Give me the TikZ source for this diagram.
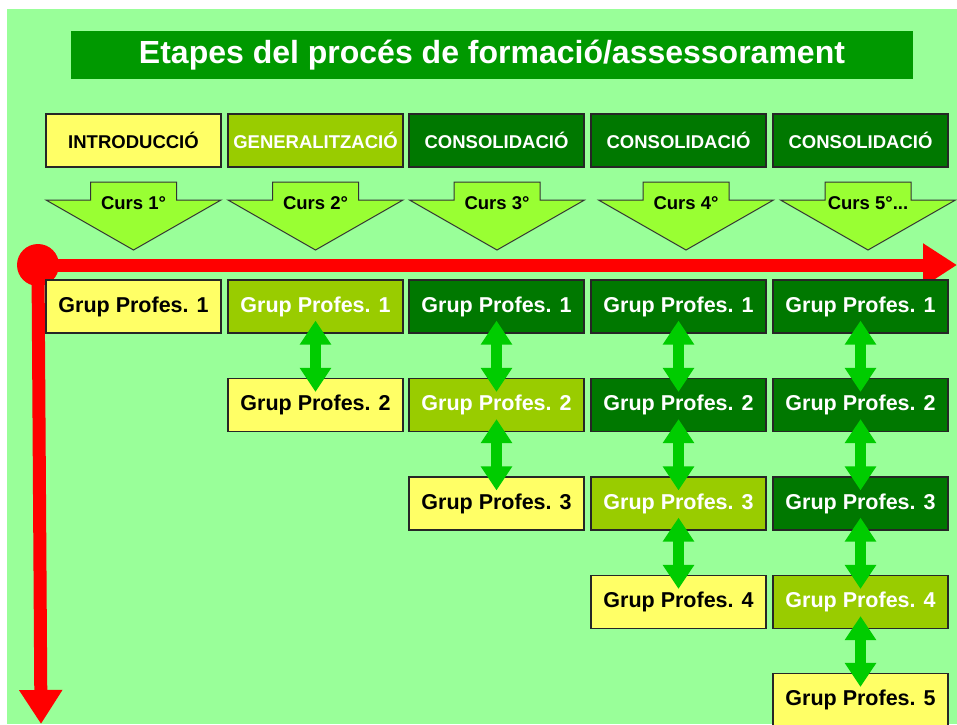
\documentclass[tikz,border=0pt]{standalone}
\usepackage{fontspec}
\setmainfont{Liberation Sans}
\usetikzlibrary{arrows.meta}
\definecolor{bggreen}{HTML}{99FF99}
\definecolor{titlegreen}{HTML}{009900}
\definecolor{boxyellow}{HTML}{FFFF66}
\definecolor{boxlime}{HTML}{99CC00}
\definecolor{boxdark}{HTML}{007800}
\definecolor{cursgreen}{HTML}{99FF33}
\definecolor{linkgreen}{HTML}{00CC00}

\begin{document}
\begin{tikzpicture}[x=1pt,y=-1pt,
    box/.style={draw=black!85,line width=1.2pt,minimum width=175pt,minimum height=53pt,inner sep=0pt,
        font=\bfseries\fontsize{21.5}{24}\selectfont},
    intro/.style={box,fill=boxyellow,text=black},
    gener/.style={box,fill=boxlime,text=white},
    consol/.style={box,fill=boxdark,text=white},
    hdr/.style={font=\bfseries\fontsize{18.5}{21}\selectfont},
    cursarrow/.style={draw=black!80,line width=1pt,fill=cursgreen},
    link/.style={draw=linkgreen,line width=11pt,{Triangle[width=30pt,length=24pt]}-{Triangle[width=30pt,length=24pt]},
        shorten <=-13pt,shorten >=-14pt},
    axis/.style={draw=red,line width=13pt,-{Triangle[width=41pt,length=34pt]}}]
    \useasboundingbox (0,0) rectangle (957,724);
    \fill[white] (0,0) rectangle (957,724);
    \fill[bggreen] (7,9) rectangle (957,724);
    \node[fill=titlegreen,minimum width=842pt,minimum height=48pt,text=white,font=\bfseries\fontsize{32}{36}\selectfont]
        (title) at (492,55) {Etapes del procés de formació/assessorament};
    % headers
    \node[intro,hdr] (h1) at (133.5,140.5) {INTRODUCCIÓ};
    \node[gener,hdr] (h2) at (315.5,140.5) {GENERALITZACIÓ};
    \node[consol,hdr] (h3) at (496.5,140.5) {CONSOLIDACIÓ};
    \node[consol,hdr] (h4) at (678.5,140.5) {CONSOLIDACIÓ};
    \node[consol,hdr] (h5) at (860.5,140.5) {CONSOLIDACIÓ};
    % curs arrows
    \foreach \x in {133.5,315.5,497,686,868}
        \draw[cursarrow] (\x-43,182) -- (\x+43,182) -- (\x+43,200) -- (\x+87.5,200) -- (\x,250)
            -- (\x-87.5,200) -- (\x-43,200) -- cycle;
    \node[hdr] (c1) at (133.5,203) {Curs 1°};
    \node[hdr] (c2) at (315.5,203) {Curs 2°};
    \node[hdr] (c3) at (497,203) {Curs 3°};
    \node[hdr] (c4) at (686,203) {Curs 4°};
    \node[hdr] (c5) at (868,203) {Curs 5°...};
    % axes
    \coordinate (origin) at (38,265);
    \coordinate (xend) at (957,265);
    \coordinate (yend) at (41,724);
    \draw[axis] (origin) -- (xend);
    \draw[axis] (origin) -- (yend);
    \fill[red] (origin) circle (21pt);
    % groups
    \node[intro] (g11) at (133.5,306.5) {Grup Profes. 1};
    \node[gener] (g21) at (315.5,306.5) {Grup Profes. 1};
    \node[intro] (g22) at (315.5,405) {Grup Profes. 2};
    \node[consol] (g31) at (496.5,306.5) {Grup Profes. 1};
    \node[gener] (g32) at (496.5,405) {Grup Profes. 2};
    \node[intro] (g33) at (496.5,503.5) {Grup Profes. 3};
    \node[consol] (g41) at (678.5,306.5) {Grup Profes. 1};
    \node[consol] (g42) at (678.5,405) {Grup Profes. 2};
    \node[gener] (g43) at (678.5,503.5) {Grup Profes. 3};
    \node[intro] (g44) at (678.5,602) {Grup Profes. 4};
    \node[consol] (g51) at (860.5,306.5) {Grup Profes. 1};
    \node[consol] (g52) at (860.5,405) {Grup Profes. 2};
    \node[consol] (g53) at (860.5,503.5) {Grup Profes. 3};
    \node[gener] (g54) at (860.5,602) {Grup Profes. 4};
    \node[intro] (g55) at (860.5,700) {Grup Profes. 5};
    % links
    \draw[link] (g21) -- (g22);
    \draw[link] (g31) -- (g32);
    \draw[link] (g32) -- (g33);
    \draw[link] (g41) -- (g42);
    \draw[link] (g42) -- (g43);
    \draw[link] (g43) -- (g44);
    \draw[link] (g51) -- (g52);
    \draw[link] (g52) -- (g53);
    \draw[link] (g53) -- (g54);
    \draw[link] (g54) -- (g55);
\end{tikzpicture}
\end{document}
